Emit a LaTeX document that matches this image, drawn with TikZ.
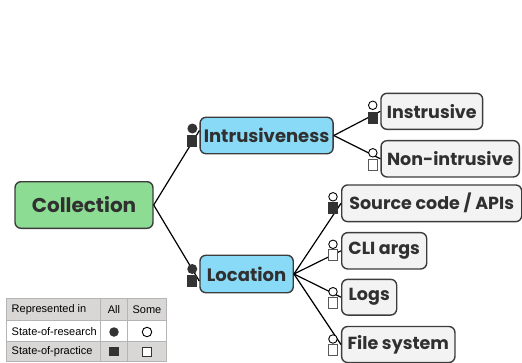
\documentclass[tikz,border=0pt]{standalone}
\usepackage{fontspec}
\setmainfont{Poppins}
\newfontfamily\tabfont{Liberation Sans}
\definecolor{greenc}{HTML}{8DDC93}
\definecolor{bluec}{HTML}{89DAF7}
\definecolor{leafc}{HTML}{F4F3F3}
\definecolor{bordc}{HTML}{3C3C3C}
\definecolor{txtc}{HTML}{303030}
\definecolor{mkc}{HTML}{333333}
\definecolor{tabgray}{HTML}{D9D6D6}
\definecolor{tabline}{HTML}{B4B4B4}
\begin{document}
\begin{tikzpicture}[x=1pt,y=-1pt,
  box/.style={draw=bordc, line width=1.4pt, rounded corners=6pt, inner sep=0pt, text=txtc, font=\bfseries\fontsize{17.5}{20}\selectfont},
  root/.style={box, fill=greenc, font=\bfseries\fontsize{20}{24}\selectfont},
  mid/.style={box, fill=bluec, font=\bfseries\fontsize{18}{22}\selectfont},
  leaf/.style={box, fill=leafc},
  conn/.style={draw=black, line width=1.2pt},
  bigdot/.style={circle, fill=mkc, inner sep=0pt, minimum size=10pt},
  bigsq/.style={rectangle, fill=mkc, inner sep=0pt, minimum width=10pt, minimum height=12pt},
  smdot/.style={circle, draw=black, line width=0.9pt, fill=white, inner sep=0pt, minimum size=8.5pt},
  smsqf/.style={rectangle, fill=mkc, draw=mkc, line width=0.6pt, inner sep=0pt, minimum width=9pt, minimum height=11pt},
  smsqe/.style={rectangle, fill=white, draw=black!65, line width=0.9pt, inner sep=0pt, minimum width=9pt, minimum height=11pt},
  tcell/.style={font=\tabfont\fontsize{11}{13}\selectfont, text=black, inner sep=0pt},
  tdotf/.style={circle, fill=mkc, inner sep=0pt, minimum size=9.5pt},
  tdote/.style={circle, draw=black, line width=0.9pt, fill=white, inner sep=0pt, minimum size=9.5pt},
  tsqf/.style={rectangle, fill=mkc, inner sep=0pt, minimum size=9.5pt},
  tsqe/.style={rectangle, draw=black!80, line width=0.9pt, fill=white, inner sep=0pt, minimum size=9pt}
]
\useasboundingbox (0,0) rectangle (522,362);

% nodes
\node[root, minimum width=138pt, minimum height=46.6pt] (coll) at (84,205) {Collection};
\node[mid, minimum width=133pt, minimum height=36.5pt] (intr) at (266.6,135.5) {Intrusiveness};
\node[mid, minimum width=93.3pt, minimum height=37.5pt] (loc) at (246.6,274) {Location};

\node[leaf, minimum width=101.7pt, minimum height=36pt] (ins) at (431.8,111.3) {Instrusive};
\node[leaf, minimum width=138.3pt, minimum height=36.3pt] (non) at (450.2,158.8) {Non-intrusive};
\node[leaf, minimum width=180pt, minimum height=36.7pt] (src) at (431.7,203.3) {Source code / APIs};
\node[leaf, minimum width=85pt, minimum height=36.3pt] (cli) at (384.2,250.8) {CLI args};
\node[leaf, minimum width=55pt, minimum height=35.7pt] (logs) at (369.2,297.2) {Logs};
\node[leaf, minimum width=113.3pt, minimum height=36pt] (fs) at (398.3,344.5) {File system};

% connectors
\path[conn] (coll.east) -- ([yshift=5pt]intr.west);
\path[conn] (coll.east) -- ([yshift=-7pt]loc.west);
\path[conn] (intr.east) -- (ins.west);
\path[conn] (intr.east) -- (non.west);
\path[conn] (loc.east) -- (src.west);
\path[conn] (loc.east) -- (cli.west);
\path[conn] (loc.east) -- (logs.west);
\path[conn] (loc.east) -- (fs.west);

% markers main
\node[bigdot] (intr-c) at ([xshift=-7pt,yshift=7pt]intr.west) {};
\node[bigsq] (intr-s) at ([xshift=-7pt,yshift=-5.5pt]intr.west) {};
\node[bigdot] (loc-c) at ([xshift=-7pt,yshift=5pt]loc.west) {};
\node[bigsq] (loc-s) at ([xshift=-7pt,yshift=-7pt]loc.west) {};

% markers leaves
\node[smdot] (ins-c) at ([xshift=-7.5pt,yshift=6pt]ins.west) {};
\node[smsqf] (ins-s) at ([xshift=-7pt,yshift=-6.5pt]ins.west) {};
\node[smdot] (non-c) at ([xshift=-7.5pt,yshift=6pt]non.west) {};
\node[smsqe] (non-s) at ([xshift=-7pt,yshift=-6pt]non.west) {};
\node[smdot] (src-c) at ([xshift=-8pt,yshift=6.5pt]src.west) {};
\node[smsqf] (src-s) at ([xshift=-8pt,yshift=-4.5pt]src.west) {};
\node[smdot] (cli-c) at ([xshift=-8pt,yshift=6.5pt]cli.west) {};
\node[smsqe] (cli-s) at ([xshift=-8pt,yshift=-4.5pt]cli.west) {};
\node[smdot] (logs-c) at ([xshift=-8pt,yshift=5.5pt]logs.west) {};
\node[smsqe] (logs-s) at ([xshift=-8pt,yshift=-5.5pt]logs.west) {};
\node[smdot] (fs-c) at ([xshift=-8pt,yshift=5.5pt]fs.west) {};
\node[smsqe] (fs-s) at ([xshift=-8pt,yshift=-5.5pt]fs.west) {};

% legend table
\fill[tabgray] (6.7,298.3) rectangle (166.7,320.7);
\fill[white] (6.7,320.7) rectangle (166.7,341.7);
\fill[tabgray] (6.7,341.7) rectangle (166.7,361.7);
\draw[tabline, line width=0.8pt] (6.7,298.3) rectangle (166.7,361.7);
\draw[tabline, line width=0.8pt] (6.7,320.7) -- (166.7,320.7);
\draw[tabline, line width=0.8pt] (6.7,341.7) -- (166.7,341.7);
\draw[tabline, line width=0.8pt] (100.7,298.3) -- (100.7,361.7);
\draw[tabline, line width=0.8pt] (127.3,298.3) -- (127.3,361.7);

\node[tcell, anchor=west] (h1) at (11.5,309.5) {Represented in};
\node[tcell] (h2) at (114,309.5) {All};
\node[tcell] (h3) at (147,309.5) {Some};
\node[tcell, anchor=west] (r1) at (11.5,331.2) {State-of-research};
\node[tcell, anchor=west] (r2) at (11.5,351.7) {State-of-practice};
\node[tdotf] (r1a) at (114,332) {};
\node[tdote] (r1s) at (147,332) {};
\node[tsqf] (r2a) at (114,351.7) {};
\node[tsqe] (r2s) at (147,351.7) {};
\end{tikzpicture}
\end{document}
